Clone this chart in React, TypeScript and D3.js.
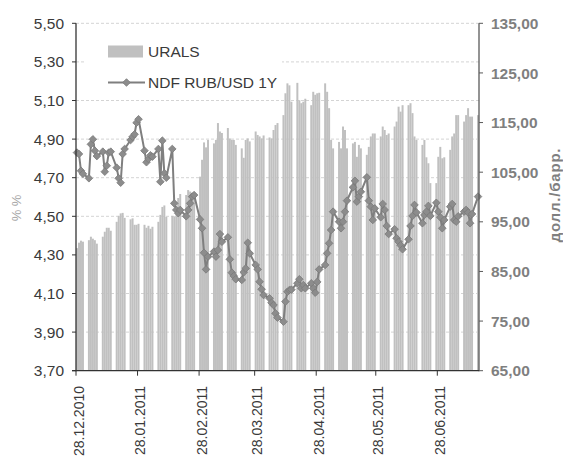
import React, { useEffect, useRef } from "react";
import * as d3 from "d3";

// first trading day of each week; the week's values follow on consecutive weekdays
const weekStarts = [
  "2010-12-28", "2011-01-03", "2011-01-10", "2011-01-17", "2011-01-24", "2011-01-31",
  "2011-02-07", "2011-02-14", "2011-02-21", "2011-02-28", "2011-03-07", "2011-03-14",
  "2011-03-21", "2011-03-28", "2011-04-04", "2011-04-11", "2011-04-18", "2011-04-25",
  "2011-05-02", "2011-05-09", "2011-05-16", "2011-05-23", "2011-05-30", "2011-06-06",
  "2011-06-13", "2011-06-20", "2011-06-27", "2011-07-04", "2011-07-11", "2011-07-18",
];

// URALS, долл./барр.
const uralsWeeks = [
  [89.7, 90.8, 91.2, 91.0],
  [91.3, 92.0, 91.6, 91.3, 90.6],
  [92.0, 93.0, 93.8, 93.8, 93.2],
  [95.0, 96.2, 96.7, 96.8, 95.8],
  [95.5, 95.7, 94.4, 94.4, 94.6],
  [94.4, 93.8, 94.2, 93.6, 94.0],
  [95.0, 96.4, 98.0, 98.3, 96.0],
  [96.2, 96.1, 96.3, 99.8, 100.6],
  [100.4, 101.4, 101.1, 100.6, 100.2],
  [104.1, 107.5, 111.0, 110.0, 111.5],
  [110.8, 111.5, 114.9, 113.2, 112.9],
  [113.9, 111.8, 111.5, 111.5, 110.5],
  [109.8, 107.9, 111.5, 111.8, 111.2],
  [113.2, 112.5, 112.2, 111.8, 112.4],
  [112.0, 111.8, 113.5, 114.5, 114.9],
  [116.5, 120.9, 122.9, 122.5, 119.2],
  [123.0, 119.5, 118.9, 119.2, 119.8],
  [118.5, 121.2, 120.6, 120.9, 121.0],
  [122.9, 121.2, 117.9, 111.5, 109.8],
  [111.1, 109.8, 114.2, 113.5, 109.8],
  [110.8, 111.1, 108.1, 110.5, 109.8],
  [108.5, 110.1, 112.2, 112.8, 112.8],
  [112.2, 114.2, 113.5, 112.5, 112.8],
  [114.2, 115.2, 118.2, 117.2, 118.5],
  [118.5, 118.9, 116.9, 112.2, 111.5],
  [110.5, 111.5, 108.0, 106.8, 102.8],
  [102.8, 108.1, 110.1, 107.8, 108.0],
  [109.5, 112.2, 112.8, 116.5, 116.5],
  [115.2, 116.5, 117.9, 116.2, 116.2],
  [116.5],
];

// NDF RUB/USD 1Y, %
const ndfWeeks = [
  [4.83, 4.823, 4.736, 4.72],
  [4.697, 4.873, 4.899, 4.84, 4.812],
  [4.835, 4.731, 4.762, 4.83, 4.835],
  [4.752, 4.697, 4.674, 4.823, 4.849],
  [4.895, 4.912, 4.925, 4.985, 5.003],
  [4.84, 4.78, 4.797, 4.816, 4.809],
  [4.849, 4.679, 4.892, 4.723, 4.7],
  [4.849, 4.567, 4.533, 4.516, 4.533],
  [4.5, 4.533, 4.567, 4.602, 4.61],
  [4.484, 4.438, 4.311, 4.225, 4.291],
  [4.317, 4.291, 4.325, 4.408, 4.368],
  [4.391, 4.277, 4.208, 4.191, 4.174],
  [4.17, 4.21, 4.23, 4.363, 4.308],
  [4.248, 4.225, 4.161, 4.122, 4.092],
  [4.075, 4.052, 4.04, 3.997, 3.975],
  [3.954, 4.058, 4.109, 4.118, 4.12],
  [4.153, 4.174, 4.127, 4.144, 4.127],
  [4.153, 4.127, 4.104, 4.16, 4.225],
  [4.248, 4.308, 4.36, 4.429, 4.524],
  [4.472, 4.438, 4.472, 4.524, 4.581],
  [4.65, 4.684, 4.576, 4.602, 4.627],
  [4.702, 4.581, 4.55, 4.481, 4.541],
  [4.495, 4.564, 4.533, 4.45, 4.408],
  [4.433, 4.386, 4.368, 4.35, 4.329],
  [4.381, 4.45, 4.502, 4.559, 4.52],
  [4.464, 4.507, 4.524, 4.554, 4.502],
  [4.57, 4.524, 4.495, 4.438, 4.481],
  [4.55, 4.564, 4.481, 4.472, 4.5],
  [4.524, 4.533, 4.52, 4.464, 4.512],
  [4.602],
];

const leftTicks = [3.7, 3.9, 4.1, 4.3, 4.5, 4.7, 4.9, 5.1, 5.3, 5.5];
const rightTicks = [65, 75, 85, 95, 105, 115, 125, 135];
const dateTicks = ["2010-12-28", "2011-01-28", "2011-02-28", "2011-03-28", "2011-04-28", "2011-05-28", "2011-06-28"];

const width = 563;
const height = 460;
const left = 76;
const right = 479;
const top = 23.3;
const bottom = 370.7;
const font = "'Liberation Sans', Arial, sans-serif";

export default function App() {
  const svgRef = useRef(null);

  useEffect(() => {
    const parse = d3.utcParse("%Y-%m-%d");
    const fmtDate = d3.utcFormat("%d.%m.%Y");
    const comma = (v, n) => v.toFixed(n).replace(".", ",");

    const rows = [];
    weekStarts.forEach((ws, w) => {
      const start = parse(ws);
      uralsWeeks[w].forEach((u, i) => {
        rows.push({ date: d3.utcDay.offset(start, i), urals: u, ndf: ndfWeeks[w][i] });
      });
    });

    const x = d3.scaleUtc()
      .domain([parse("2010-12-28"), parse("2011-07-19")])
      .range([left, right]);
    const yL = d3.scaleLinear().domain([3.7, 5.5]).range([bottom, top]);
    const yR = d3.scaleLinear().domain([65, 135]).range([bottom, top]);
    const dayW = (d) => x(d3.utcDay.offset(d, 1)) - x(d);

    const svg = d3.select(svgRef.current);
    svg.selectAll("*").remove();
    svg.style("font-family", font);

    // gridlines
    svg.append("g")
      .selectAll("line")
      .data(leftTicks.slice(1))
      .join("line")
        .attr("x1", left).attr("x2", right)
        .attr("y1", d => yL(d)).attr("y2", d => yL(d))
        .attr("stroke", "#d4d4d4")
        .attr("stroke-dasharray", "3,2");

    // legend background hides the grid behind it
    svg.append("rect")
      .attr("x", 84).attr("y", 30).attr("width", 198).attr("height", 66)
      .attr("fill", "#fff");

    // URALS bars
    svg.append("g")
      .selectAll("rect")
      .data(rows)
      .join("rect")
        .attr("x", d => x(d.date))
        .attr("width", d => dayW(d.date))
        .attr("y", d => yR(d.urals))
        .attr("height", d => bottom - yR(d.urals))
        .attr("fill", "#c0c0c0");

    // NDF line
    const cx = d => x(d.date) + dayW(d.date) / 2;
    const line = d3.line().x(cx).y(d => yL(d.ndf));
    svg.append("path")
      .datum(rows)
      .attr("d", line)
      .attr("fill", "none")
      .attr("stroke", "#7f7f7f")
      .attr("stroke-width", 2);

    const diamond = "M0,-3.8L3.8,0L0,3.8L-3.8,0Z";
    svg.append("g")
      .selectAll("path")
      .data(rows)
      .join("path")
        .attr("d", diamond)
        .attr("transform", d => `translate(${cx(d)},${yL(d.ndf)})`)
        .attr("fill", "#8c8c8c")
        .attr("stroke", "#7a7a7a")
        .attr("stroke-width", 0.8);

    // left axis
    const gl = svg.append("g");
    gl.append("line")
      .attr("x1", left).attr("x2", left).attr("y1", top).attr("y2", bottom + 0.5)
      .attr("stroke", "#333").attr("stroke-width", 1.3);
    gl.selectAll("line.t")
      .data(leftTicks)
      .join("line")
        .attr("class", "t")
        .attr("x1", left - 4).attr("x2", left)
        .attr("y1", d => yL(d)).attr("y2", d => yL(d))
        .attr("stroke", "#333");
    gl.selectAll("text")
      .data(leftTicks)
      .join("text")
        .attr("x", 64)
        .attr("y", d => yL(d))
        .attr("dy", "0.36em")
        .attr("text-anchor", "end")
        .attr("font-size", 15.5)
        .attr("fill", "#3a3a3a")
        .text(d => comma(d, 2));

    // right axis
    const gr = svg.append("g");
    gr.append("line")
      .attr("x1", right).attr("x2", right).attr("y1", top).attr("y2", bottom + 0.5)
      .attr("stroke", "#595959").attr("stroke-width", 1.3);
    gr.selectAll("line.t")
      .data(rightTicks)
      .join("line")
        .attr("class", "t")
        .attr("x1", right).attr("x2", right + 4)
        .attr("y1", d => yR(d)).attr("y2", d => yR(d))
        .attr("stroke", "#595959");
    gr.selectAll("text")
      .data(rightTicks)
      .join("text")
        .attr("x", 491)
        .attr("y", d => yR(d))
        .attr("dy", "0.36em")
        .attr("font-size", 15.5)
        .attr("font-weight", "bold")
        .attr("fill", "#7f7f7f")
        .text(d => comma(d, 2));

    // x axis
    const gx = svg.append("g");
    gx.append("line")
      .attr("x1", left - 4).attr("x2", right).attr("y1", bottom).attr("y2", bottom)
      .attr("stroke", "#333").attr("stroke-width", 1.3);
    const dates = dateTicks.map(parse);
    gx.selectAll("line.t")
      .data(dates)
      .join("line")
        .attr("class", "t")
        .attr("x1", d => x(d)).attr("x2", d => x(d))
        .attr("y1", bottom).attr("y2", bottom + 5)
        .attr("stroke", "#333");
    gx.selectAll("text")
      .data(dates)
      .join("text")
        .attr("transform", d => `translate(${x(d) + 2.5},386) rotate(-90)`)
        .attr("dy", "0.36em")
        .attr("text-anchor", "end")
        .attr("font-size", 14)
        .attr("fill", "#3a3a3a")
        .text(d => fmtDate(d));

    // axis titles
    svg.append("text")
      .attr("transform", "translate(16,208) rotate(-90)")
      .attr("text-anchor", "middle")
      .attr("dy", "0.35em")
      .attr("font-size", 13)
      .attr("fill", "#a6a6a6")
      .text("% %");
    svg.append("text")
      .attr("transform", "translate(555,195) rotate(-90)")
      .attr("text-anchor", "middle")
      .attr("dy", "0.35em")
      .attr("font-size", 15)
      .attr("font-weight", "bold")
      .attr("letter-spacing", 0.8)
      .attr("fill", "#7f7f7f")
      .text("долл./барр.");

    // legend
    const lg = svg.append("g").attr("font-size", 15.5).attr("fill", "#3a3a3a");
    lg.append("rect")
      .attr("x", 108).attr("y", 45.5).attr("width", 35).attr("height", 12)
      .attr("fill", "#c0c0c0");
    lg.append("text").attr("x", 148).attr("y", 51.5).attr("dy", "0.36em").text("URALS");
    lg.append("line")
      .attr("x1", 108).attr("x2", 145).attr("y1", 82.5).attr("y2", 82.5)
      .attr("stroke", "#7f7f7f").attr("stroke-width", 2);
    lg.append("path")
      .attr("d", diamond)
      .attr("transform", "translate(126.5,82.5)")
      .attr("fill", "#8c8c8c")
      .attr("stroke", "#7a7a7a")
      .attr("stroke-width", 0.8);
    lg.append("text").attr("x", 148).attr("y", 82.5).attr("dy", "0.36em").text("NDF RUB/USD 1Y");
  }, []);

  return (
    <div style={{ position: "absolute", left: 0, top: 0 }}>
      <svg ref={svgRef} width={width} height={height} style={{ display: "block", background: "#fff" }} />
    </div>
  );
}
